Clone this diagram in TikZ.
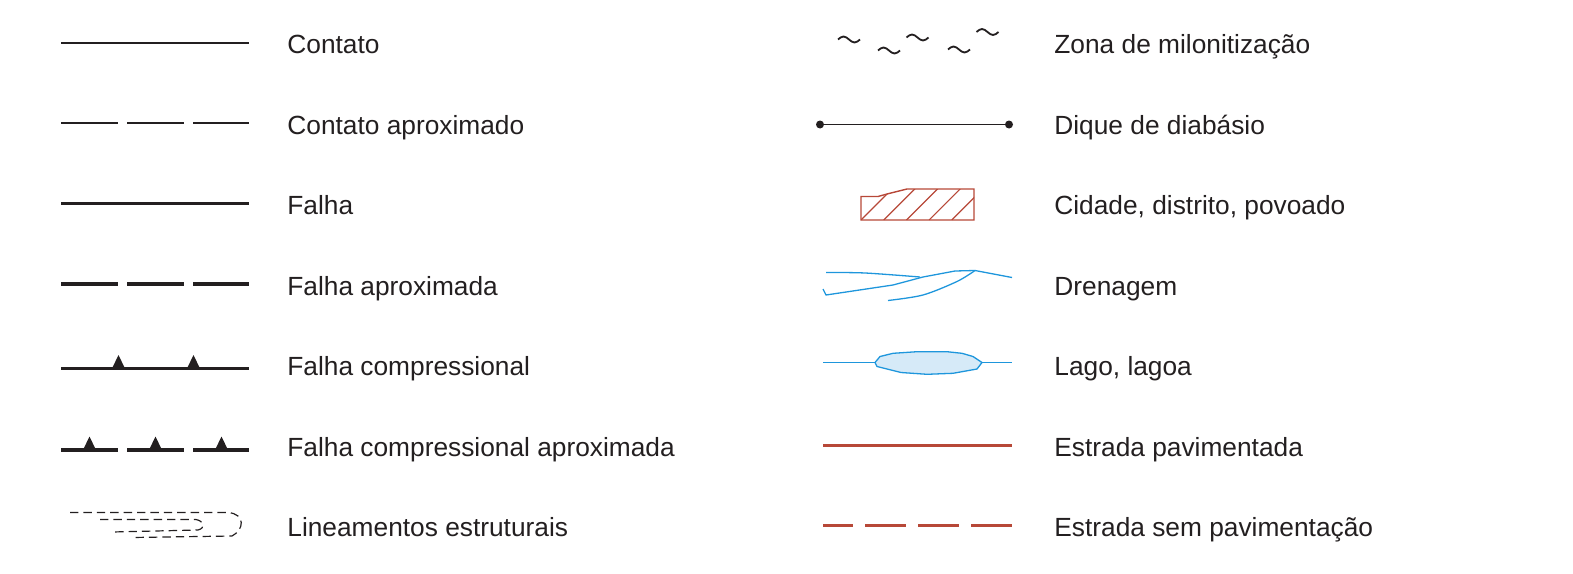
\documentclass[tikz,border=0pt]{standalone}
\usepackage{fontspec}
\setmainfont{Liberation Sans}
\definecolor{preto}{RGB}{35,31,32}
\definecolor{estrada}{RGB}{183,72,56}
\definecolor{agua}{RGB}{30,150,220}
\definecolor{lago}{RGB}{214,234,248}
\begin{document}
\begin{tikzpicture}[x=0.5pt,y=-0.5pt,
    rotulo/.style={anchor=base west,inner sep=0pt,text=preto,
      font=\fontsize{13.15}{15}\selectfont},
    fino/.style={draw=preto,line width=0.6pt},
    grosso/.style={draw=preto,line width=1.65pt},
    dente/.style={fill=preto},
    rio/.style={draw=agua,line width=0.65pt},
    via/.style={draw=estrada,line width=1.5pt}]
    \useasboundingbox (0,0) rectangle (1573,573);

    \node[rotulo] (contato)   at (287,53.5)  {Contato};
    \node[rotulo] (contatoap) at (287,134)   {Contato aproximado};
    \node[rotulo] (falha)     at (287,214.5) {Falha};
    \node[rotulo] (falhaap)   at (287,295)   {Falha aproximada};
    \node[rotulo] (falhac)    at (287,375.5) {Falha compressional};
    \node[rotulo] (falhacap)  at (287,456)   {Falha compressional aproximada};
    \node[rotulo] (lineam)    at (287,536.5) {Lineamentos estruturais};

    \node[rotulo] (milon)     at (1054,53.5)  {Zona de milonitização};
    \node[rotulo] (dique)     at (1054,134)   {Dique de diabásio};
    \node[rotulo] (cidade)    at (1054,214.5) {Cidade, distrito, povoado};
    \node[rotulo] (drenagem)  at (1054,295)   {Drenagem};
    \node[rotulo] (lago)      at (1054,375.5) {Lago, lagoa};
    \node[rotulo] (pav)       at (1054,456)   {Estrada pavimentada};
    \node[rotulo] (sempav)    at (1054,536.5) {Estrada sem pavimentação};

    \draw[fino] (61,43) -- (249,43);
    \foreach \a/\b in {61/118,127/184,193/249}
        \draw[fino] (\a,123) -- (\b,123);

    \draw[grosso] (61,203.5) -- (249,203.5);
    \foreach \a/\b in {61/118,127/184,193/249}
        \draw[grosso] (\a,284) -- (\b,284);

    \draw[grosso] (61,368.5) -- (249,368.5);
    \foreach \x in {118.5,193.5}
        \fill[dente] (\x-6.5,368.5) -- (\x,355) -- (\x+6.5,368.5) -- cycle;
    \foreach \a/\b in {61/118,127/184,193/249}
        \draw[grosso] (\a,450) -- (\b,450);
    \foreach \x in {89.5,155.5,221.5}
        \fill[dente] (\x-6.5,450) -- (\x,436.5) -- (\x+6.5,450) -- cycle;

    \draw[fino,dash pattern=on 4.2pt off 2.5pt]
        (70,512.5) -- (228,512.5) .. controls (246,514) and (244,530) .. (232,536)
        -- (132,537.5);
    \draw[fino,dash pattern=on 4.2pt off 2.5pt]
        (100,519.5) -- (196,519.5) .. controls (204,521) and (206,528) .. (198,530)
        -- (112,532);

    \foreach \x/\y in {849/39.5,889/50.5,917.5/37.5,959/49.5,987.5/32}
        \draw[preto,line width=0.9pt] (\x-11,\y) sin (\x-5.5,\y-3)
            cos (\x,\y) sin (\x+5.5,\y+3) cos (\x+11,\y);

    \draw[fino,line width=0.7pt] (820,124.5) -- (1009,124.5);
    \fill[preto] (820,124.5) circle (4) (1009,124.5) circle (4);

    \begin{scope}
        \clip (861,220) -- (861,196.5) -- (878,196.5) -- (887,194) -- (907,189)
            -- (974,189) -- (974,220) -- cycle;
        \foreach \x in {861,883.7,...,1000}
            \draw[estrada,line width=0.6pt] (\x,220) -- ++(40,-40);
    \end{scope}
    \draw[estrada,line width=0.7pt] (861,220) -- (861,196.5) -- (878,196.5)
        -- (887,194) -- (907,189) -- (974,189) -- (974,220) -- cycle;

    \draw[rio] plot[smooth] coordinates {(826,272.5) (865,273) (920,277)};
    \draw[rio] (823,289) -- (826,295) -- (893,285) -- (923,277) -- (955,271)
        -- (975,270.5) -- (1012,277.5);
    \draw[rio] plot[smooth] coordinates {(888,300.5) (923,295) (957,281.5) (975,270.5)};

    \draw[rio] (823,362.5) -- (875,362.5);
    \draw[rio] (982,362.5) -- (1012,362.5);
    \filldraw[rio,fill=lago] (875,362.5) -- (877,366.5) -- (901,372.5) -- (927,374.3)
        -- (953,373.3) -- (977,369) -- (982,362.5) -- (973,356.5) -- (962,353.3)
        -- (947,351.7) -- (917,351.7) -- (893,353.3) -- (880,356.5) -- cycle;

    \draw[via] (823,445) -- (1012,445);
    \foreach \a/\b in {823/853,865/906,918/959,971/1012}
        \draw[via] (\a,525.5) -- (\b,525.5);
\end{tikzpicture}
\end{document}
